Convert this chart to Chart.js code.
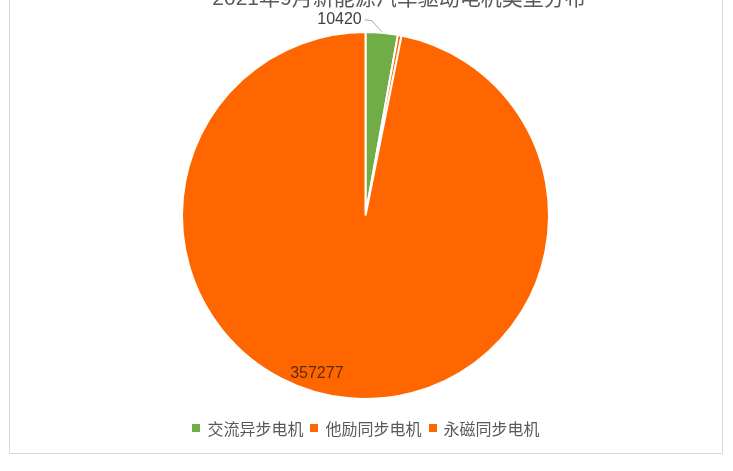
<!DOCTYPE html>
<html>
<head>
<meta charset="utf-8">
<script src="https://cdn.jsdelivr.net/npm/chart.js@4/dist/chart.umd.min.js"></script>
<style>
  html, body { margin: 0; padding: 0; background: #fff; }
  #wrap { width: 733px; height: 471px; position: relative; overflow: hidden; }
  #legend {
    position: absolute; left: 0; width: 733px; top: 417px; height: 22px;
    display: flex; justify-content: center; align-items: center;
    font-family: "Liberation Sans", "Noto Sans CJK SC", sans-serif;
    font-size: 16px; color: #595959;
  }
  #legend .item { display: flex; align-items: center; margin: 0 4px 0 3px; }
  #legend .box { width: 8px; height: 8px; margin-right: 7px; }
</style>
</head>
<body>
<div id="wrap">
  <canvas id="myChart" width="733" height="471"></canvas>
  <div id="legend"></div>
</div>
<script>
// 2021年9月 驱动电机类型
var labels = ['交流异步电机', '他励同步电机', '永磁同步电机'];
var values = [10420, 1200, 357277];
var colors = ['#70ad47', '#ff6600', '#ff6600'];
var titleText = '2021年9月新能源汽车驱动电机类型分布';

var FONT = '"Liberation Sans", "Noto Sans CJK SC", sans-serif';

// frame + cut-off title + value labels
var extras = {
    id: 'extras',
    beforeDraw: function (chart) {
        var ctx = chart.ctx;
        ctx.save();
        ctx.fillStyle = '#fff';
        ctx.fillRect(0, 0, chart.width, chart.height);
        ctx.strokeStyle = '#d9d9d9';
        ctx.lineWidth = 1;
        ctx.strokeRect(9.5, -5, 713, 458.5);
        ctx.fillStyle = '#595959';
        ctx.font = '21px ' + FONT;
        ctx.textAlign = 'center';
        ctx.textBaseline = 'middle';
        ctx.fillText(titleText, 399, -1);
        ctx.restore();
    },
    afterDatasetsDraw: function (chart) {
        var ctx = chart.ctx;
        var arcs = chart.getDatasetMeta(0).data;
        ctx.save();
        ctx.font = '16px ' + FONT;
        ctx.textBaseline = 'middle';

        // small slice: label outside with a leader line
        var a = arcs[0];
        var mid = (a.startAngle + a.endAngle) / 2;
        var ex = a.x + Math.cos(mid) * a.outerRadius;
        var ey = a.y + Math.sin(mid) * a.outerRadius;
        ctx.strokeStyle = '#a6a6a6';
        ctx.lineWidth = 1;
        ctx.beginPath();
        ctx.moveTo(ex, ey - 1);
        ctx.lineTo(ex - 10, ey - 12);
        ctx.lineTo(ex - 17, ey - 13);
        ctx.stroke();
        ctx.fillStyle = '#404040';
        ctx.textAlign = 'right';
        ctx.fillText(String(values[0]), ex - 20, ey - 13);

        // big slice: label inside end
        var b = arcs[2];
        var ang = (b.startAngle + b.endAngle) / 2 + 0.2;
        var rr = b.outerRadius * 0.9;
        ctx.fillStyle = '#5a2e08';
        ctx.textAlign = 'center';
        ctx.fillText(String(values[2]), b.x + Math.cos(ang) * rr, b.y + Math.sin(ang) * rr);
        ctx.restore();
    }
};

var ctx = document.getElementById('myChart').getContext('2d');
var chart = new Chart(ctx, {
    type: 'pie',
    data: {
        labels: labels,
        datasets: [{
            data: values,
            backgroundColor: colors,
            borderColor: '#ffffff',
            borderWidth: 2
        }]
    },
    options: {
        responsive: false,
        animation: false,
        layout: { padding: { top: 31, bottom: 71, left: 0, right: 2 } },
        plugins: {
            legend: { display: false },
            tooltip: { enabled: false },
            title: { display: false }
        }
    },
    plugins: [extras]
});

// legend built from the same arrays
var leg = document.getElementById('legend');
labels.forEach(function (name, i) {
    var item = document.createElement('div');
    item.className = 'item';
    var box = document.createElement('span');
    box.className = 'box';
    box.style.background = colors[i];
    var txt = document.createElement('span');
    txt.textContent = name;
    item.appendChild(box);
    item.appendChild(txt);
    leg.appendChild(item);
});
</script>
</body>
</html>
